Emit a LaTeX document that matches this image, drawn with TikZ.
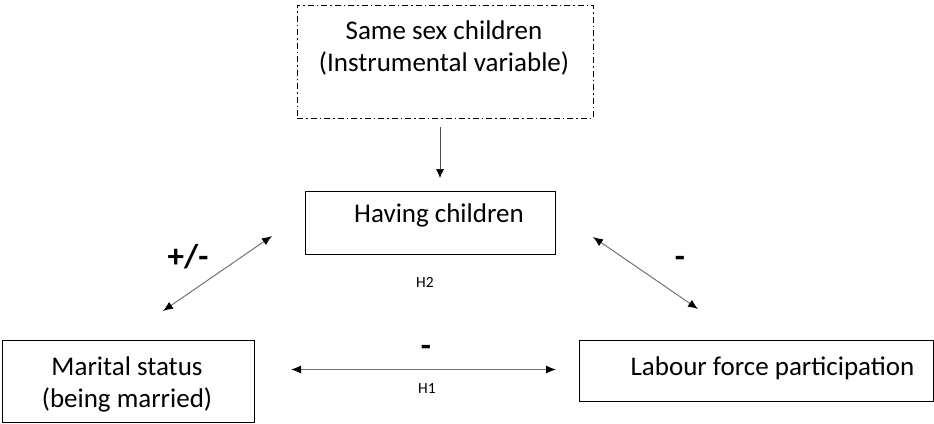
\documentclass[tikz,border=0pt]{standalone}
\usepackage{fontspec}
\setmainfont{Carlito}
\usetikzlibrary{arrows.meta}

\begin{document}
\begin{tikzpicture}[x=1pt,y=-1pt,
  box/.style={draw, line width=1pt, inner sep=0pt},
  txt/.style={align=center, anchor=base, font=\fontsize{27}{31.5}\selectfont},
  conn/.style={draw=black!55, line width=1pt, {Latex[length=10pt,width=8pt,color=black]}-{Latex[length=10pt,width=8pt,color=black]}},
  sign/.style={font=\fontsize{33}{33}\selectfont\bfseries},
  hyp/.style={font=\fontsize{15.5}{18}\selectfont}]
\useasboundingbox (0,0) rectangle (934,423);
% boxes
\node[box, dash pattern=on 6pt off 3pt on 1.5pt off 3pt, minimum width=296pt, minimum height=113pt] (iv) at (445,61.5) {};
\node[box, minimum width=250pt, minimum height=63pt] (kids) at (430,222.5) {};
\node[box, minimum width=252pt, minimum height=82pt] (marital) at (128,381) {};
\node[box, minimum width=354pt, minimum height=61pt] (labour) at (756,370.5) {};
% texts (base = last line)
\node[txt] (ivtext) at (444,71) {Same sex children\\(Instrumental variable)};
\node[txt] (kidstext) at (439,222) {Having children};
\node[txt] (maritaltext) at (127,407) {Marital status\\(being married)};
\node[txt] (labourtext) at (772.5,375) {Labour force participation};
% arrows
\coordinate (ivout) at (440,127);
\coordinate (kidsin) at (440,178);
\draw[draw=black!70, line width=0.7pt, -{Latex[length=9pt,width=8pt,color=black]}] (ivout) -- (kidsin);
\coordinate (mk1) at (163,311);
\coordinate (mk2) at (272,236);
\draw[conn] (mk1) -- (mk2);
\coordinate (kl1) at (593,237);
\coordinate (kl2) at (698,309);
\draw[conn] (kl1) -- (kl2);
\coordinate (ml1) at (291,369.5);
\coordinate (ml2) at (556,369.5);
\draw[conn] (ml1) -- (ml2);
% signs and hypotheses
\node[sign] (s1) at (188,257) {+/-};
\node[sign] (s2) at (680,262) {-};
\node[sign] (s3) at (426,351) {-};
\node[hyp] (h2) at (425,282) {H2};
\node[hyp] (h1) at (427,389) {H1};
\end{tikzpicture}
\end{document}
